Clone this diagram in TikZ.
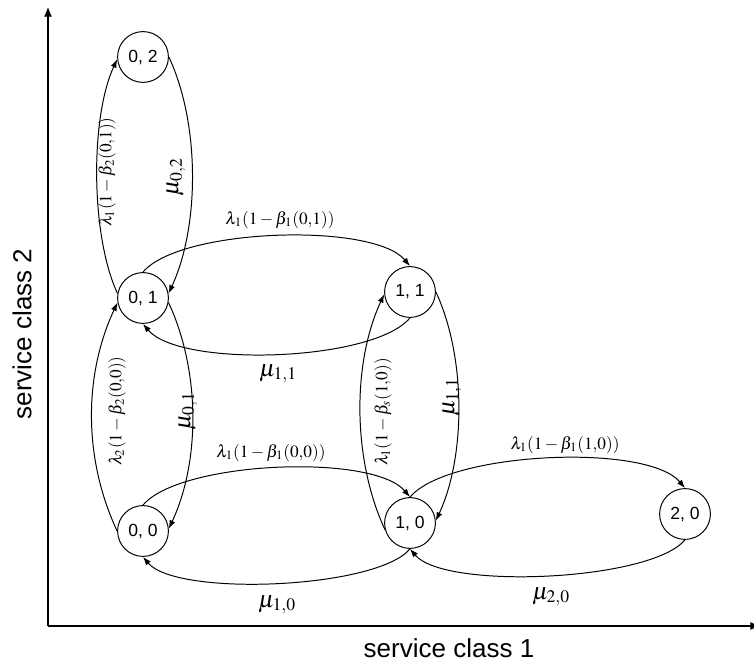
\documentclass[tikz,border=0pt]{standalone}
\usepackage{mathptmx}
\usepackage[no-math]{fontspec}
\setmainfont{Liberation Sans}
\usetikzlibrary{arrows.meta}
\begin{document}
\begin{tikzpicture}[x=0.025cm,y=0.025cm,
  state/.style={circle,draw,line width=0.7pt,minimum size=1.27cm,inner sep=0pt,font=\fontsize{12.5}{14}\selectfont},
  tr/.style={line width=0.7pt,-{Latex[length=2.1mm,width=1.5mm]}},
  lam/.style={inner sep=0pt,font=\fontsize{12.3}{14}\selectfont},
  mu/.style={inner sep=0pt,font=\fontsize{17}{19}\selectfont},
  axlab/.style={inner sep=0pt,font=\fontsize{18.5}{21}\selectfont}]
\useasboundingbox (0,0) rectangle (754,662);
% axes
\coordinate (O) at (48,36);
\coordinate (Ytop) at (48,655);
\coordinate (Xend) at (760,36);
\draw[line width=0.8pt,-{Latex[length=2.4mm,width=2mm]}] (O) -- (Ytop);
\draw[line width=0.8pt,-{Latex[length=2.4mm,width=2mm]}] (O) -- (Xend);
\node[axlab] (xl) at (449,14) {service class 1};
\node[axlab,rotate=90] (yl) at (22,328) {service class 2};
% states
\node[state] (n02) at (143,605) {0, 2};
\node[state] (n01) at (143,364) {0, 1};
\node[state] (n00) at (143,131) {0, 0};
\node[state] (n11) at (410,370) {1, 1};
\node[state] (n10) at (410,139) {1, 0};
\node[state] (n20) at (685,148) {2, 0};
% vertical transitions
\draw[tr] (n02.0) to[out=-65,in=65,looseness=0.8] (n01.10);
\draw[tr] (n01.170) to[out=115,in=-115,looseness=0.7] (n02.185);
\draw[tr] (n00.180) to[out=115,in=-115,looseness=0.9] (n01.190);
\draw[tr] (n01.-10) to[out=-65,in=65,looseness=0.85] (n00.5);
\draw[tr] (n10.195) to[out=115,in=-115,looseness=0.83] (n11.185);
\draw[tr] (n11.0) to[out=-65,in=65,looseness=0.8] (n10.5);
% horizontal transitions
\draw[tr] (n01.90) to[out=50,in=130,looseness=0.55] (n11.90);
\draw[tr] (n11.-90) to[out=-130,in=-50,looseness=0.55] (n01.-90);
\draw[tr] (n00.90) to[out=50,in=130,looseness=0.55] (n10.90);
\draw[tr] (n10.-90) to[out=-130,in=-50,looseness=0.5] (n00.-90);
\draw[tr] (n10.90) to[out=50,in=130,looseness=0.55] (n20.90);
\draw[tr] (n20.-90) to[out=-130,in=-50,looseness=0.5] (n10.-90);
% labels
\node[lam,rotate=90] (l02) at (107,490) {$\lambda_1(1-\beta_2(0{,}1))$};
\node[mu,rotate=90] (m02) at (176,485) {$\mu_{0,2}$};
\node[lam,rotate=90] (l01) at (117,251) {$\lambda_2(1-\beta_2(0{,}0))$};
\node[mu,rotate=90] (m01) at (188,251) {$\mu_{0,1}$};
\node[lam,rotate=90] (l11) at (383,250) {$\lambda_1(1-\beta_s(1{,}0))$};
\node[mu,rotate=90] (m11v) at (452,265) {$\mu_{1,1}$};
\node[lam] (t1) at (280,442) {$\lambda_1(1-\beta_1(0{,}1))$};
\node[mu] (m11h) at (278,288) {$\mu_{1,1}$};
\node[lam] (t0) at (271,209) {$\lambda_1(1-\beta_1(0{,}0))$};
\node[mu] (m10) at (277,57) {$\mu_{1,0}$};
\node[lam] (t2) at (565,217) {$\lambda_1(1-\beta_1(1{,}0))$};
\node[mu] (m20) at (551,65) {$\mu_{2,0}$};
\end{tikzpicture}
\end{document}
